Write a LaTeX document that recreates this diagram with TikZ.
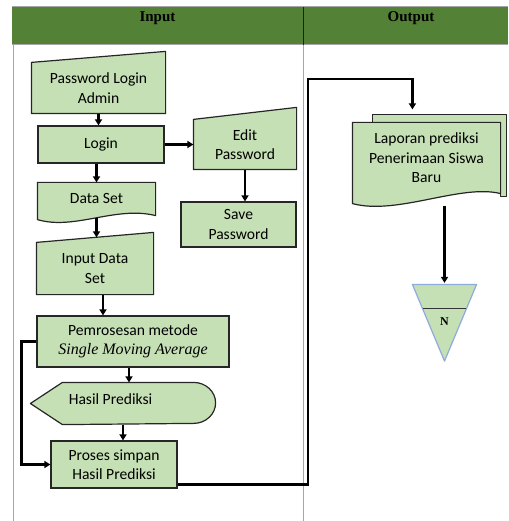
\documentclass[tikz,border=0pt]{standalone}
\usepackage{fontspec}
\setmainfont{Carlito}
\newfontfamily\seriffont{Liberation Serif}
\usetikzlibrary{arrows.meta,backgrounds,calc}

\definecolor{headgreen}{HTML}{538135}
\definecolor{boxgreen}{HTML}{C5E0B4}
\definecolor{gridgray}{HTML}{A6A6A6}
\definecolor{tribdr}{HTML}{8FAADC}

\begin{document}
\begin{tikzpicture}[
  x=1pt, y=-1pt,
  box/.style={draw=black!85, line width=1.2pt, fill=boxgreen, rectangle, align=center,
              inner sep=0pt, font=\fontsize{15.6}{19.5}\selectfont},
  plain/.style={box, draw=none, fill=none},
  outline/.style={draw=black!85, line width=1.2pt, fill=boxgreen, line join=round},
  head/.style={font=\seriffont\bfseries\fontsize{15}{18}\selectfont},
  flow/.style={line width=2.4pt, -{Triangle[length=6pt,width=7pt]}},
  >=Stealth
]
\useasboundingbox (0,0) rectangle (508,521);

% ---- Header ----
\node[head] (hin) at (157.5,18) {Input};
\node[head] (hout) at (411,18) {Output};

% ---- Input column ----
\node[plain, minimum width=133pt, minimum height=50pt] (adm) at (98.5,88) {Password Login\\Admin};
\node[box, minimum width=126pt, minimum height=37pt] (login) at (101,144.5) {Login};
\node[plain, minimum width=117pt, minimum height=30pt] (dset) at (96.5,198) {Data Set};
\node[plain, minimum width=102pt, minimum height=49pt] (edit) at (245,144.5) {Edit\\Password};
\node[box, minimum width=115pt, minimum height=45pt] (save) at (238.5,224.5) {Save\\Password};
\node[plain, minimum width=116pt, minimum height=51pt] (inp) at (95,268.5) {Input Data\\Set};
\node[box, minimum width=192pt, minimum height=51pt] (proc) at (133,341.5) {Pemrosesan metode\\
  {\seriffont\itshape\fontsize{16}{19.5}\selectfont Single Moving Average}};
\node[plain, minimum width=184pt, minimum height=41pt,
  label={[font=\fontsize{15.6}{19.5}\selectfont, xshift=-12.5pt, yshift=4pt]center:Hasil Prediksi}]
  (hasil) at (123,403.5) {};
\node[box, minimum width=126pt, minimum height=47pt] (proses) at (114,464.5) {Proses simpan\\Hasil Prediksi};

% ---- Output column ----
\node[plain, minimum width=133pt, minimum height=81pt] (lapback) at (439.5,155.5) {};
\node[plain, minimum width=147pt, minimum height=70pt] (lap) at (426.5,158)
  {Laporan prediksi\\Penerimaan Siswa\\Baru};
\node[plain, minimum width=63pt, minimum height=77pt,
  font=\seriffont\bfseries\fontsize{12}{14}\selectfont] (offl) at (444.5,322) {N};
\coordinate (bend) at (308,79);

% ---- Table and shapes ----
\begin{scope}[on background layer]
  \fill[headgreen] (12,7) rectangle (508,45);
  \draw[gridgray, line width=1pt] (12,7) -- (508,7) (12,45) -- (508,45);
  \draw[gridgray, line width=1pt] (13,45) -- (13,521) (303,45) -- (303,521);
  \draw[black!70!headgreen, line width=1pt] (303,7) -- (303,45);

  \draw[outline] (adm.south west) -- (adm.north west) -- ($(adm.north east)+(0,-11)$)
    -- (adm.south east) -- cycle;
  \draw[outline] (edit.south west) -- (edit.north west) -- ($(edit.north east)+(0,-12)$)
    -- (edit.south east) -- cycle;
  \draw[outline] (inp.south west) -- (inp.north west) -- ($(inp.north east)+(0,-10)$)
    -- (inp.south east) -- cycle;
  \draw[outline] (dset.north west) -- (dset.north east) -- ($(dset.south east)+(0,2)$)
    .. controls ($(dset.south east)+(-40,-8)$) and ($(dset.south west)+(37,17)$)
    .. ($(dset.south west)+(0,6)$) -- cycle;
  \draw[outline] (hasil.west) -- ($(hasil.north west)+(32,0)$) -- ($(hasil.north east)+(-22,0)$)
    arc[start angle=90, end angle=-90, x radius=22pt, y radius=20.5pt]
    -- ($(hasil.south west)+(32,0)$) -- cycle;

  \draw[outline] (lapback.west |- lap.north) -- (lapback.north west) -- (lapback.north east)
    -- (lapback.south east) -- (lap.east |- lapback.south) -- (lap.north east) -- cycle;
  \draw[outline] (lap.north west) -- (lap.north east) -- (lap.south east)
    .. controls ($(lap.south east)+(-40,-10)$) and ($(lap.south west)+(45,22)$)
    .. ($(lap.south west)+(0,10)$) -- cycle;
  \draw[outline, draw=tribdr] ($(offl.north west)+(0,1.5)$) -- ($(offl.north east)+(0,1.5)$)
    -- (offl.south) -- cycle;
  \draw[black!80, line width=1pt] ($(offl.north west)!0.325!(offl.south)$)
    -- ($(offl.north east)!0.325!(offl.south)$);
\end{scope}

% ---- Edges ----
\draw[flow] (adm.south) -- (adm.south |- login.north);
\draw[flow] (dset.north |- login.south) -- (dset.north);
\draw[flow] ($(dset.south)+(0,4)$) -- ($(dset.south |- inp.north)+(0,-5)$);
\draw[flow] ($(inp.south)+(8,0)$) -- ($(inp.south |- proc.north)+(8,0)$);
\draw[flow] ($(proc.south)+(-4,0)$) -- ($(proc.south |- hasil.north)+(-4,0)$);
\draw[flow] (hasil.south) -- (hasil.south |- proses.north);
\draw[flow] (login.east) -- (edit.west);
\draw[flow] (edit.south) -- (edit.south |- save.north);
\draw[flow] (proc.west) -- ++(-15,0) |- (proses.west);
\draw[flow] ($(proses.south east)+(0,-4)$) -| (bend) -| ($(lapback.north west)+(40,-5)$);
\draw[flow] ($(offl.north |- lap.south)+(0,12)$) -- (offl.north);

\end{tikzpicture}
\end{document}
